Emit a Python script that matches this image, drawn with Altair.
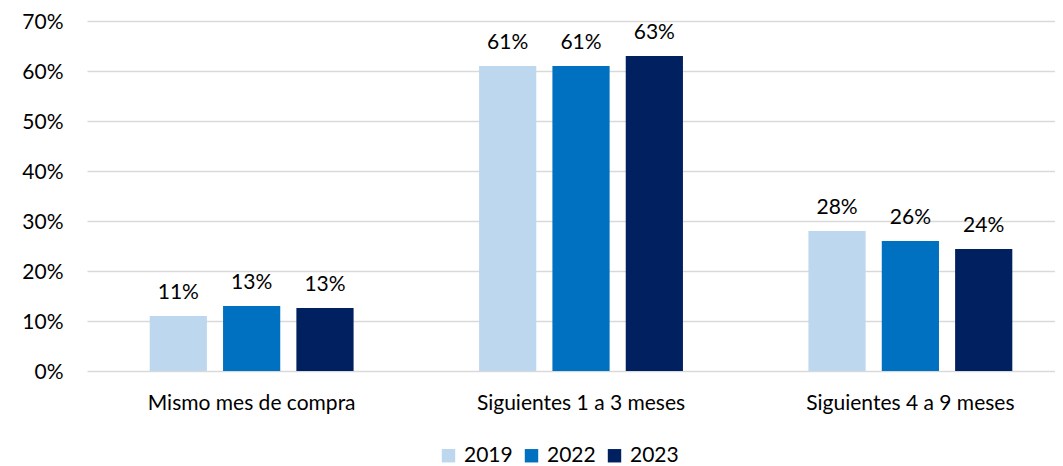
import altair as alt
import pandas as pd

categories = ["Mismo mes de compra", "Siguientes 1 a 3 meses", "Siguientes 4 a 9 meses"]
years = ["2019", "2022", "2023"]
v2019 = [0.11, 0.61, 0.28]
v2022 = [0.13, 0.61, 0.26]
v2023 = [0.126, 0.63, 0.244]
colors = ["#BDD7EE", "#0070C0", "#002060"]
y_ticks = [0, 0.1, 0.2, 0.3, 0.4, 0.5, 0.6, 0.7]

rows = []
for yr, vals in zip(years, [v2019, v2022, v2023]):
    for c, v in zip(categories, vals):
        rows.append({"cat": c, "year": yr, "value": v})
df = pd.DataFrame(rows)

FONT = "Lato"
FS = 21

x_enc = alt.X("cat:N", sort=categories, title=None,
              scale=alt.Scale(paddingInner=0.381, paddingOuter=0.16, align=0.595),
              axis=alt.Axis(labelAngle=0, labelFont=FONT, labelFontSize=FS, labelColor="#000000",
                            labelPadding=21, labelLimit=500, ticks=False, domain=False, grid=False))
xo_enc = alt.XOffset("year:N", sort=years,
                     scale=alt.Scale(paddingInner=0.22, paddingOuter=0))
y_enc = alt.Y("value:Q", title=None,
              scale=alt.Scale(domain=[0, 0.7], nice=False),
              axis=alt.Axis(values=y_ticks, format=".0%", labelFont=FONT, labelFontSize=FS,
                            labelColor="#000000", labelPadding=24, labelOffset=1, ticks=False,
                            domain=False, grid=True, gridColor="#D9D9D9", gridWidth=1.4))

bars = alt.Chart(df).mark_bar().encode(
    x=x_enc,
    xOffset=xo_enc,
    y=y_enc,
    color=alt.Color("year:N", sort=years,
                    scale=alt.Scale(domain=years, range=colors),
                    legend=alt.Legend(title=None, orient="none", direction="horizontal",
                                      legendX=351, legendY=424, symbolType="square",
                                      symbolSize=180, symbolStrokeWidth=0, labelFont=FONT,
                                      labelFontSize=FS, labelColor="#000000", labelOffset=5,
                                      columnPadding=8)),
)

labels = alt.Chart(df).mark_text(baseline="alphabetic", dy=-17, font=FONT, fontSize=FS,
                                 color="#000000").encode(
    x=alt.X("cat:N", sort=categories),
    xOffset=alt.XOffset("year:N", sort=years),
    y="value:Q",
    text=alt.Text("value:Q", format=".0%"),
)

chart = (bars + labels).properties(
    width=968, height=350,
    autosize=alt.AutoSizeParams(type="none"),
    padding={"left": 79, "top": 13, "right": 0, "bottom": 94},
).configure_view(stroke=None)

chart.save("out.html", embed_options={"renderer": "svg", "actions": False})
